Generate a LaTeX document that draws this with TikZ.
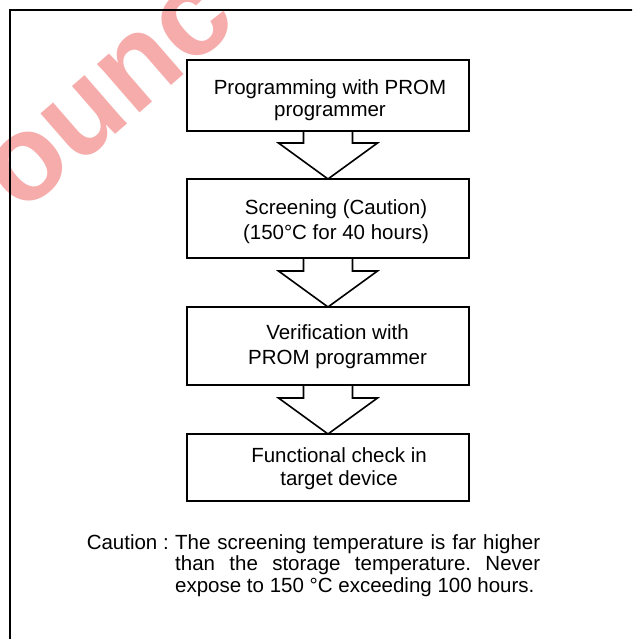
\documentclass[tikz,border=0pt]{standalone}
\usepackage{fontspec}
\setmainfont{Liberation Sans}
\usetikzlibrary{calc}
\definecolor{wm}{RGB}{247,172,172}
\newcommand{\nohyph}{\hyphenpenalty=10000\relax\exhyphenpenalty=10000\relax\tolerance=10000\relax\frenchspacing}
\begin{document}
\begin{tikzpicture}[x=1pt,y=-1pt,
  stepbox/.style={draw, line width=1.6pt, minimum width=282pt, inner sep=0pt, outer sep=0pt},
  steptext/.style={inner sep=0pt, align=center},
  blockarrow/.style={draw, line width=1.6pt, line join=miter},
  frameline/.style={line width=2.4pt},
  notefont/.style={font=\fontsize{20.5}{21.6}\selectfont\nohyph},
]
\useasboundingbox (0,0) rectangle (632,639);
\clip (0,0) rectangle (632,639);
\fill[white] (0,0) rectangle (632,639);
% watermark
\node[rotate=41, text=wm, font=\fontsize{122}{122}\selectfont\bfseries, inner sep=0pt] (wmark) at (110,96) {ounc};
% frame
\draw[frameline] (10,700) -- (10,10) -- (700,10);
% boxes
\node[stepbox, minimum height=71pt] (b1) at (328,95.5) {};
\node[stepbox, minimum height=79pt] (b2) at (328,218.5) {};
\node[stepbox, minimum height=78pt] (b3) at (328,346) {};
\node[stepbox, minimum height=67pt] (b4) at (328,467.5) {};
% box texts
\node[steptext, font=\fontsize{20.5}{22}\selectfont] (t1) at ($(b1.center)+(2,4.5)$) {Programming with PROM\\programmer};
\node[steptext, font=\fontsize{20.5}{25}\selectfont] (t2) at ($(b2.center)+(8,3)$) {Screening (Caution)\\(150°C for 40 hours)};
\node[steptext, font=\fontsize{20.5}{25}\selectfont] (t3) at ($(b3.center)+(9.5,0.5)$) {Verification with\\PROM programmer};
\node[steptext, font=\fontsize{20.5}{23}\selectfont] (t4) at ($(b4.center)+(11,1)$) {Functional check in\\target device};
% arrows
\foreach \a/\b in {b1/b2,b2/b3,b3/b4}
  \draw[blockarrow] ($(\a.south)+(-24.5,0)$) -- ($(\b.north)+(-24.5,-36)$) -- ($(\b.north)+(-49.5,-36)$)
     -- (\b.north) -- ($(\b.north)+(49.5,-36)$) -- ($(\b.north)+(24.5,-36)$) -- ($(\a.south)+(24.5,0)$);
% caution note
\node[notefont, anchor=north west, text width=365pt, align=justify, inner sep=0pt] (note) at (175,534)
  {\strut The screening temperature is far higher than the storage temperature. Never expose to 150 °C exceeding 100 hours.};
\node[notefont, anchor=north east, inner sep=0pt] (cap) at ($(note.north west)+(-6,0)$) {\strut Caution :};
\end{tikzpicture}
\end{document}
